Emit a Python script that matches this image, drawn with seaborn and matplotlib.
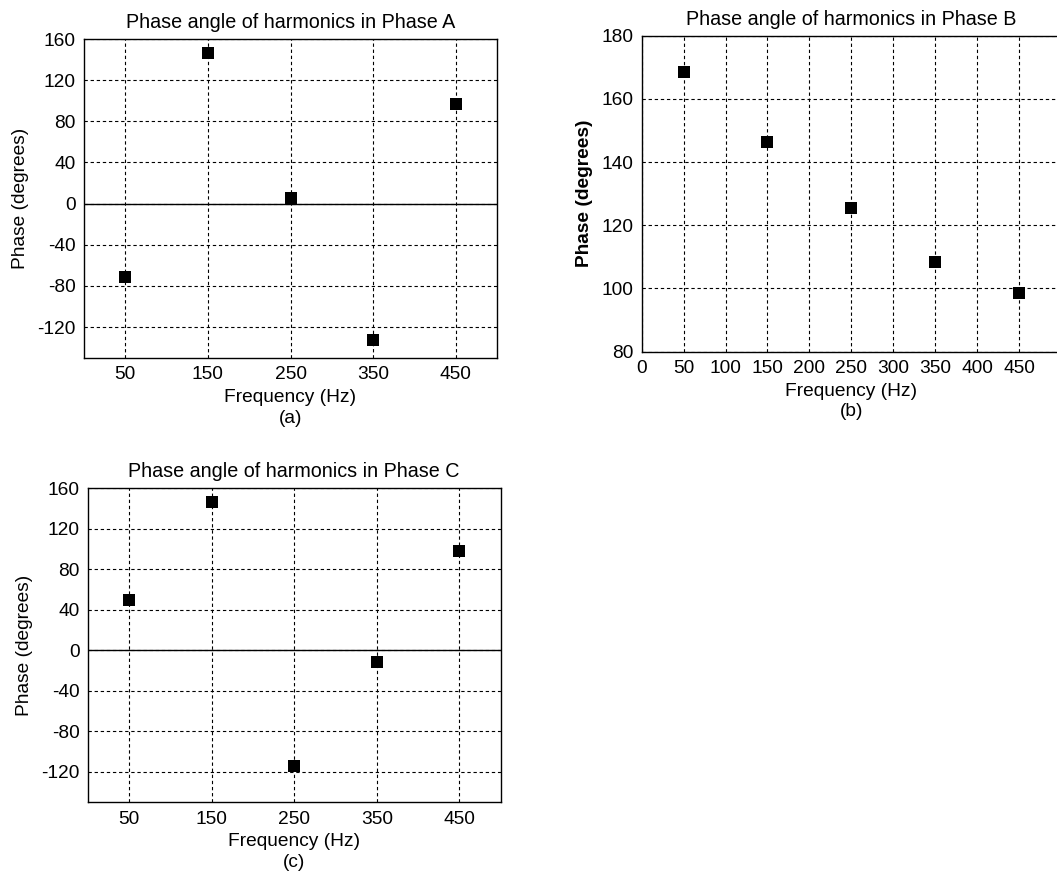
import matplotlib
matplotlib.use("Agg")
import matplotlib.pyplot as plt
import pandas as pd
import seaborn as sns

# Harmonic frequencies (Hz) and phase angles (degrees) per phase
freq = [50, 150, 250, 350, 450]
phase_a = [-71, 146, 5.5, -132.5, 97]
phase_b = [168.5, 146.3, 125.6, 108.5, 98.5]
phase_c = [49.5, 146.5, -114.5, -11.5, 98]

sym_ticks = [-120, -80, -40, 0, 40, 80, 120, 160]
b_yticks = [80, 100, 120, 140, 160, 180]
b_xticks = [0, 50, 100, 150, 200, 250, 300, 350, 400, 450]

sns.set_style("white")
plt.rcParams["font.family"] = ["Liberation Sans", "DejaVu Sans"]
plt.rcParams.update({
    "axes.unicode_minus": False,
    "text.color": "black",
    "axes.labelcolor": "black",
    "xtick.color": "black",
    "ytick.color": "black",
})

fig = plt.figure(figsize=(10.57, 8.77), dpi=100)

FS = 13.8


def style_axes(ax, title, sub, bold_ylabel=False):
    ax.set_title(title, fontsize=14.2, pad=8)
    ax.set_xlabel(f"Frequency (Hz)\n{sub}", fontsize=FS, linespacing=1.3, labelpad=4)
    ax.set_ylabel("Phase (degrees)", fontsize=FS, labelpad=6,
                  fontweight="bold" if bold_ylabel else "normal")
    ax.grid(True, color="black", linestyle=(0, (3, 2.5)), linewidth=0.8)
    ax.set_axisbelow(True)
    for s in ax.spines.values():
        s.set_color("black")
        s.set_linewidth(1.0)
        s.set_visible(True)
    ax.tick_params(axis="both", labelsize=FS, direction="in", length=3,
                   color="black", pad=6)


def panel(rect, y, title, sub, xticks, yticks, ylim, zero_line=True, bold=False):
    ax = fig.add_axes(rect)
    df = pd.DataFrame({"freq": freq, "phase": y})
    sns.scatterplot(data=df, x="freq", y="phase", ax=ax, marker="s", s=78,
                    color="black", edgecolor="black", linewidth=0, zorder=3)
    if zero_line:
        ax.axhline(0, color="black", linewidth=1.0, zorder=2)
    ax.set_xlim(0, 500)
    ax.set_ylim(*ylim)
    ax.set_xticks(xticks)
    ax.set_yticks(yticks)
    style_axes(ax, title, sub, bold)
    return ax


panel([0.0795, 0.5918, 0.3907, 0.3637], phase_a,
      "Phase angle of harmonics in Phase A", "(a)",
      freq, sym_ticks, (-150, 160))
panel([0.6071, 0.5990, 0.3967, 0.3603], phase_b,
      "Phase angle of harmonics in Phase B", "(b)",
      b_xticks, b_yticks, (80, 180), zero_line=False, bold=True)
panel([0.0830, 0.0852, 0.3907, 0.3580], phase_c,
      "Phase angle of harmonics in Phase C", "(c)",
      freq, sym_ticks, (-150, 160))

fig.savefig("out.png", dpi=100, facecolor="white")
plt.close(fig)
